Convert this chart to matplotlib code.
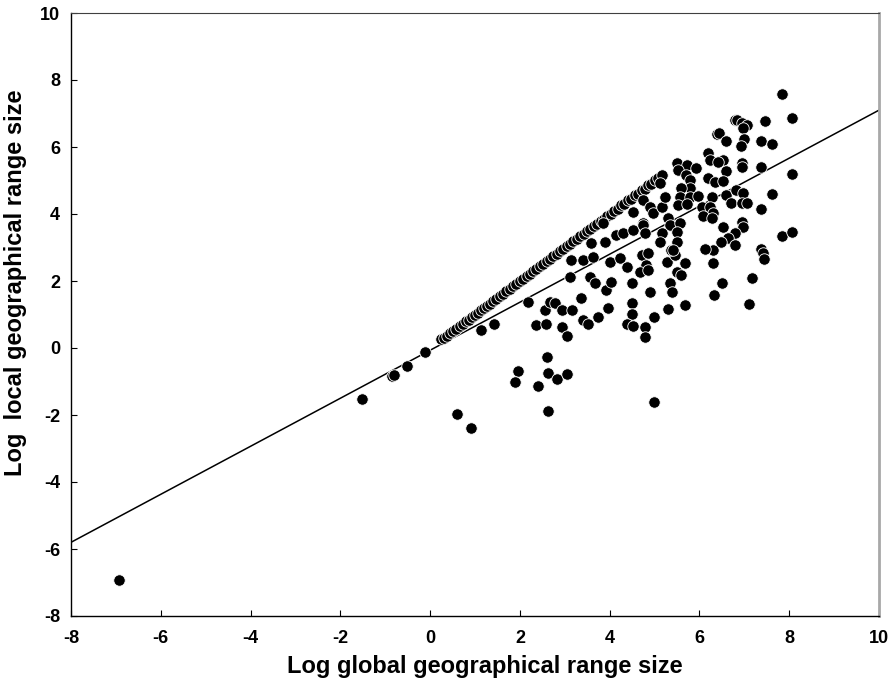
import matplotlib.pyplot as plt
import numpy as np

plt.rcParams['font.family'] = ['Liberation Sans', 'DejaVu Sans']
plt.rcParams['font.weight'] = 'bold'
plt.rcParams['axes.unicode_minus'] = False

# species lying on the 1:1 line (local range == global range)
diag_global = [-6.93, -1.52, -0.84, -0.80, -0.52, -0.12,
               0.24, 0.30, 0.37, 0.45, 0.52, 0.58, 0.66, 0.73, 0.80, 0.86,
               0.93, 1.00, 1.06, 1.13, 1.19, 1.26, 1.33, 1.40, 1.47, 1.55,
               1.62, 1.70, 1.78, 1.85, 1.92, 2.00, 2.07, 2.15, 2.22, 2.30,
               2.37, 2.45, 2.52, 2.60, 2.67, 2.74, 2.82, 2.89, 2.97, 3.04,
               3.12, 3.19, 3.27, 3.35, 3.42, 3.50, 3.57, 3.65, 3.72, 3.80,
               3.88, 3.95, 4.03, 4.10, 4.18, 4.26, 4.33, 4.41, 4.48, 4.56,
               4.63, 4.71, 4.78, 4.86, 4.93, 5.01, 5.08, 5.16, 6.40, 6.44,
               6.80, 6.84]
diag_local = [-6.93, -1.52, -0.85, -0.82, -0.53, -0.11,
              0.26, 0.31, 0.36, 0.44, 0.52, 0.57, 0.66, 0.72, 0.80, 0.85,
              0.93, 0.99, 1.05, 1.13, 1.18, 1.26, 1.32, 1.40, 1.46, 1.55,
              1.61, 1.70, 1.77, 1.85, 1.91, 2.00, 2.06, 2.15, 2.21, 2.30,
              2.36, 2.45, 2.51, 2.60, 2.66, 2.74, 2.81, 2.89, 2.96, 3.04,
              3.11, 3.19, 3.26, 3.35, 3.41, 3.50, 3.56, 3.65, 3.71, 3.80,
              3.86, 3.95, 4.01, 4.10, 4.16, 4.26, 4.31, 4.41, 4.46, 4.56,
              4.61, 4.71, 4.76, 4.86, 4.91, 5.01, 5.06, 5.16, 6.39, 6.42,
              6.81, 6.80]

# species with local range smaller than global range
glob = [0.61, 0.92, 1.13, 1.43, 2.17, 1.96, 1.90, 2.60, 2.63, 2.83, 3.06,
        2.41, 2.63, 4.98, 2.37, 2.59, 2.57, 2.67, 2.78, 2.93, 2.93, 3.04,
        3.17, 3.37, 3.40, 3.52, 3.73, 3.97, 3.56, 3.67, 3.92, 4.02, 3.11,
        3.13, 3.41, 3.63, 4.00, 4.23, 4.38, 4.50, 4.90, 4.50, 4.50, 4.38,
        4.53, 4.78, 4.78, 4.98, 5.30, 5.67, 5.34, 5.38, 4.71, 4.86, 4.82,
        4.67, 4.86, 5.27, 5.45, 5.67, 5.49, 5.60, 5.36,
        3.58, 3.86, 3.89, 4.13, 4.30, 4.52, 4.75, 4.52, 4.75, 5.12, 4.90,
        4.97, 5.16, 5.23, 5.30, 5.34, 5.56, 5.49, 5.16, 5.12, 5.49, 5.41,
        4.75, 4.78,
        7.83, 8.07, 7.47, 6.94, 7.05, 6.97, 6.60, 6.99, 6.92, 7.37, 7.61,
        6.19, 6.23, 6.53, 6.42, 6.60, 6.94, 6.94, 7.37, 8.07, 5.50, 5.73,
        5.92, 5.53, 5.70, 5.79, 5.79, 5.60, 6.19, 6.34, 6.53, 5.56, 5.79,
        5.97, 5.53, 5.73, 6.05, 6.27, 6.23, 6.31, 6.08, 6.27, 6.60, 6.71,
        6.82, 6.97, 6.94, 7.05, 7.37, 7.61, 6.53, 6.94, 6.97, 6.79, 6.64,
        6.79, 6.49, 6.31, 6.12, 7.38, 7.42, 7.43, 7.83, 8.07, 6.31, 6.51,
        6.33, 7.17, 7.11]
loc = [-1.98, -2.40, 0.53, 0.72, 1.38, -0.68, -1.01, -0.28, -0.74, -0.93,
       -0.78, -1.12, -1.87, -1.62, 0.69, 0.72, 1.13, 1.38, 1.33, 1.13, 0.64,
       0.36, 1.13, 1.48, 0.84, 0.72, 0.93, 1.18, 2.13, 1.93, 1.73, 1.98,
       2.13, 2.63, 2.63, 2.73, 2.58, 2.68, 2.43, 1.93, 1.68, 1.35, 1.01,
       0.72, 0.66, 0.62, 0.32, 0.92, 1.16, 1.28, 1.93, 1.68, 2.78, 2.83,
       2.48, 2.28, 2.33, 2.58, 2.78, 2.53, 2.28, 2.18, 2.92,
       3.14, 3.72, 3.17, 3.37, 3.42, 3.52, 3.72, 4.07, 4.42, 4.92, 4.22,
       4.02, 4.22, 4.52, 3.87, 3.67, 3.72, 3.47, 3.42, 3.17, 3.17, 2.93,
       3.67, 3.42,
       7.57, 6.88, 6.78, 6.71, 6.66, 6.56, 6.19, 6.23, 6.03, 6.19, 6.08,
       5.81, 5.61, 5.61, 5.56, 5.27, 5.51, 5.39, 5.41, 5.19, 5.52, 5.46,
       5.36, 5.31, 5.16, 5.01, 4.77, 4.77, 5.07, 4.97, 4.99, 4.52, 4.52,
       4.54, 4.27, 4.30, 4.22, 4.52, 4.22, 4.04, 3.94, 3.87, 4.57, 4.32,
       4.72, 4.62, 4.32, 4.32, 4.14, 4.59, 3.62, 3.77, 3.62, 3.42, 3.27,
       3.07, 3.17, 2.94, 2.97, 2.97, 2.84, 2.65, 3.34, 3.45, 2.53, 1.95,
       1.58, 2.08, 1.30]

# fitted regression line
slope = 0.7167
intercept = -0.067

x_all = np.array(diag_global + glob)
y_all = np.array(diag_local + loc)

fig = plt.figure(figsize=(8.96, 6.88), dpi=100)
ax = fig.add_axes([71 / 896, 72 / 688, 808 / 896, 603 / 688])

xl = np.array([-8, 10])
ax.plot(xl, slope * xl + intercept, color='black', lw=1.1, zorder=2)
ax.scatter(x_all, y_all, s=68, c='black', edgecolors='white',
           linewidths=0.6, zorder=3)

ax.set_xlim(-8, 10)
ax.set_ylim(-8, 10)
ax.set_xticks(np.arange(-8, 11, 2))
ax.set_yticks(np.arange(-8, 11, 2))
ax.tick_params(direction='in', length=4, width=0.8, labelsize=13, pad=8)
ax.tick_params(axis='x', pad=10)
for lab in ax.get_xticklabels() + ax.get_yticklabels():
    lab.set_fontweight('bold')

ax.spines['left'].set_linewidth(1.0)
ax.spines['bottom'].set_linewidth(1.0)
ax.spines['top'].set_color('#404040')
ax.spines['right'].set_color('#a8a8a8')
ax.spines['right'].set_linewidth(2.0)

ax.set_xlabel('Log global geographical range size', fontsize=17,
              fontweight='bold')
ax.set_ylabel('Log  local geographical range size', fontsize=17,
              fontweight='bold')
ax.xaxis.set_label_coords(0.512, -0.064)
ax.yaxis.set_label_coords(-0.055, 0.553)

fig.savefig('out.png', dpi=100)
